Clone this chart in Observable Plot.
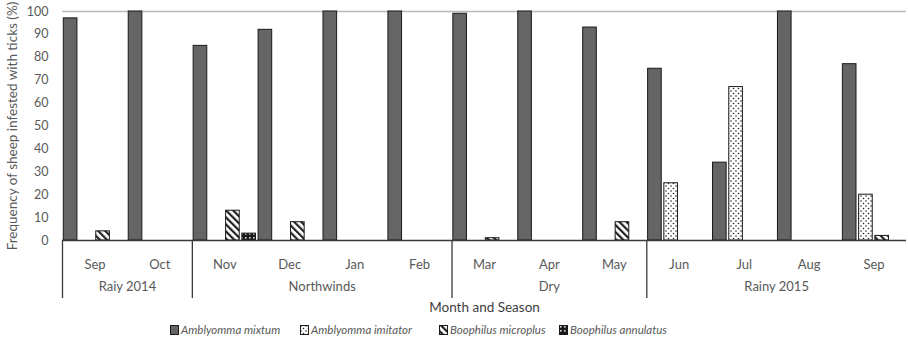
<!DOCTYPE html>
<html>
<head>
<meta charset="utf-8">
<script src="https://cdn.jsdelivr.net/npm/d3@7"></script>
<script src="https://cdn.jsdelivr.net/npm/@observablehq/plot@0.6"></script>
<style>
  html, body { margin: 0; padding: 0; background: #fff; }
  #chart svg { display: block; }
  .legend { position: relative; height: 25px;
    font-family: Lato, "Open Sans", sans-serif; font-size: 11.5px; font-style: italic; color: #595959; }
  .legend .item { position: absolute; top: 3px; display: flex; align-items: center; gap: 2px; white-space: nowrap; }
  .legend svg { display: block; }
</style>
</head>
<body>
<svg width="0" height="0" style="position:absolute">
  <defs>
    <pattern id="pDots" width="5" height="5" patternUnits="userSpaceOnUse">
      <rect width="5" height="5" fill="#fff"/>
      <circle cx="1" cy="1" r="0.8" fill="#222"/>
      <circle cx="3.5" cy="3.5" r="0.8" fill="#222"/>
    </pattern>
    <pattern id="pStripe" width="5" height="5" patternUnits="userSpaceOnUse" patternTransform="rotate(-45)">
      <rect width="5" height="5" fill="#fff"/>
      <rect width="2.2" height="5" fill="#222"/>
    </pattern>
    <pattern id="pChecker" width="4" height="4" patternUnits="userSpaceOnUse">
      <rect width="4" height="4" fill="#1a1a1a"/>
      <rect x="1" y="1" width="1.6" height="1.6" fill="#ddd"/>
    </pattern>
  </defs>
</svg>
<div id="chart"></div>
<script>
// ---- data ----
const months = ["Sep","Oct","Nov","Dec","Jan","Feb","Mar","Apr","May","Jun","Jul","Aug","Sep"];
const seasons = ["Raiy 2014","Northwinds","Dry","Rainy 2015"];
const seasonStart = [0, 2, 6, 9];
const seasonEnd = [2, 6, 9, 13];
const species = ["Amblyomma mixtum","Amblyomma imitator","Boophilus microplus","Boophilus annulatus"];
const mixtum    = [97, 100, 85, 92, 100, 100, 99, 100, 93, 75, 34, 100, 77];
const imitator  = [0, 0, 0, 0, 0, 0, 0, 0, 0, 25, 67, 0, 20];
const microplus = [4, 0, 13, 8, 0, 0, 1, 0, 8, 0, 0, 0, 2];
const annulatus = [0, 0, 3, 0, 0, 0, 0, 0, 0, 0, 0, 0, 0];
const yTicks = [0,10,20,30,40,50,60,70,80,90,100];

const series = [mixtum, imitator, microplus, annulatus];
const fills = ["#656565", "url(#pDots)", "url(#pStripe)", "url(#pChecker)"];
const legendLeft = [170, 300, 439, 559];

const slot = 0.25, gap = 0.02;
const barMarks = series.map((vals, k) => {
  const rows = vals.map((v, m) => ({m, v})).filter(d => d.v > 0);
  return Plot.rectY(rows, {
    x1: d => d.m + k * slot + gap,
    x2: d => d.m + (k + 1) * slot - gap,
    y: "v",
    fill: fills[k],
    stroke: "#1a1a1a",
    strokeWidth: 1
  });
});

const seasonRows = seasons.map((s, i) => ({s, a: seasonStart[i], b: seasonEnd[i]}));

const chart = Plot.plot({
  width: 908,
  height: 320,
  marginLeft: 62,
  marginRight: 2,
  marginTop: 11,
  marginBottom: 80,
  style: {fontFamily: "Lato, 'Open Sans', sans-serif", fontSize: "12.5px", color: "#595959", background: "#fff"},
  x: {domain: [0, 13], axis: null},
  y: {domain: [0, 100], ticks: yTicks, tickSize: 0, tickPadding: 14,
      label: "Frequency of sheep infested with ticks (%)", labelAnchor: "center", labelOffset: 55, labelArrow: "none"},
  marks: [
    Plot.ruleY([100], {stroke: "#b8b8b8", strokeWidth: 1.5}),
    ...barMarks,
    Plot.ruleY([0], {stroke: "#3a3a3a", strokeWidth: 1.3}),
    Plot.ruleX(seasonStart, {stroke: "#3a3a3a", strokeWidth: 1.3, dy: 58, insetTop: 171}),
    Plot.text(months, {x: (d, i) => i + 0.5, text: d => d, frameAnchor: "bottom", dy: 28, fontSize: 13, fill: "#595959"}),
    Plot.text(seasonRows, {x: d => (d.a + d.b) / 2, text: "s", frameAnchor: "bottom", dy: 50, fontSize: 13, fill: "#595959"}),
    Plot.text(["Month and Season"], {frameAnchor: "bottom", dy: 71, fontSize: 13.5, fill: "#404040"})
  ]
});
chart.querySelectorAll("g[aria-label='y-axis label'] text, g[aria-label='y-axis label']").forEach(el => el.setAttribute("font-size", "13.5"));
document.getElementById("chart").appendChild(chart);

// legend
const legend = d3.select("body").append("div").attr("class", "legend");
species.forEach((name, k) => {
  const it = legend.append("div").attr("class", "item").style("left", legendLeft[k] + "px");
  const sw = it.append("svg").attr("width", 9).attr("height", 10);
  sw.append("rect").attr("x", 0.5).attr("y", 0.5).attr("width", 8).attr("height", 9)
    .attr("fill", fills[k]).attr("stroke", "#1a1a1a");
  it.append("span").text(name);
});
</script>
</body>
</html>
